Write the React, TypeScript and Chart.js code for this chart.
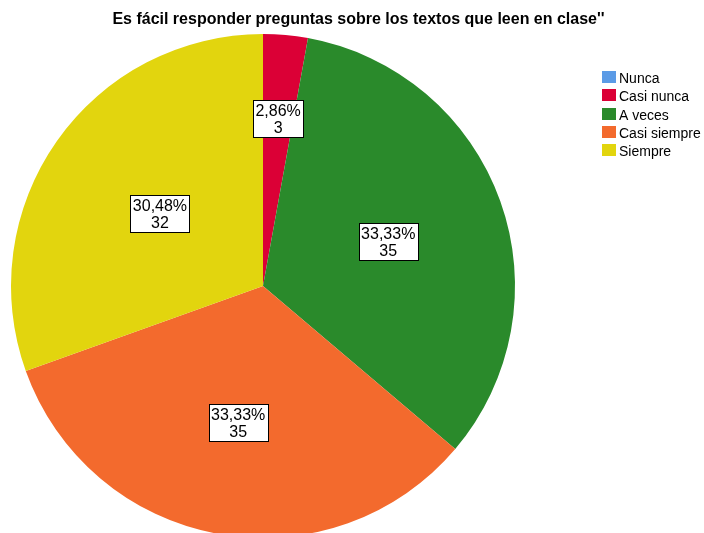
import React, { useEffect, useRef } from "react";
import { Chart, registerables } from "chart.js";

Chart.register(...registerables);

const titleText = "Es fácil responder preguntas sobre los textos que leen en clase''";
const categories = ["Nunca", "Casi nunca", "A veces", "Casi siempre", "Siempre"];
const counts = [0, 3, 35, 35, 32];
const colors = ["#5B9BE6", "#DB0036", "#2A8A2B", "#F36A2D", "#E2D50E"];
const labelDistance = [0.6, 0.669, 0.528, 0.552, 0.5];

const FONT = "'Liberation Sans', Arial, sans-serif";

const overlayPlugin = {
  id: "overlay",
  afterDraw(chart: any) {
    const ctx = chart.ctx as CanvasRenderingContext2D;
    const total = counts.reduce((a, b) => a + b, 0);
    ctx.save();
    // title
    ctx.fillStyle = "#000";
    ctx.font = `bold 16px ${FONT}`;
    ctx.textAlign = "center";
    ctx.textBaseline = "alphabetic";
    ctx.fillText(titleText, 358.5, 24);

    // legend
    ctx.font = `14px ${FONT}`;
    ctx.textAlign = "left";
    categories.forEach((c, i) => {
      const top = 71 + i * 18.33;
      ctx.fillStyle = colors[i];
      ctx.fillRect(602, Math.round(top), 14, 12);
      ctx.fillStyle = "#000";
      ctx.fillText(c, 619, Math.round(top) + 12);
    });

    // slice labels
    const meta = chart.getDatasetMeta(0);
    ctx.font = `16px ${FONT}`;
    meta.data.forEach((arc: any, i: number) => {
      if (!counts[i]) return;
      const p = arc.getProps(["x", "y", "startAngle", "endAngle", "outerRadius"], true);
      const mid = (p.startAngle + p.endAngle) / 2;
      const d = p.outerRadius * labelDistance[i];
      const cx = p.x + Math.cos(mid) * d;
      const cy = p.y + Math.sin(mid) * d;
      const l1 = ((counts[i] / total) * 100).toFixed(2).replace(".", ",") + "%";
      const l2 = String(counts[i]);
      const w = Math.max(ctx.measureText(l1).width, ctx.measureText(l2).width) + 5;
      const h = 37;
      const left = Math.round(cx - w / 2) + 0.5;
      const top = Math.round(cy - h / 2) + 0.5;
      ctx.fillStyle = "#fff";
      ctx.fillRect(left, top, Math.round(w), h);
      ctx.strokeStyle = "#000";
      ctx.lineWidth = 1;
      ctx.strokeRect(left, top, Math.round(w), h);
      ctx.fillStyle = "#000";
      ctx.textAlign = "center";
      ctx.fillText(l1, cx, top + 15);
      ctx.fillText(l2, cx, top + 32);
    });
    ctx.restore();
  },
};

export default function App() {
  const ref = useRef<HTMLCanvasElement>(null);
  useEffect(() => {
    if (!ref.current) return;
    const chart = new Chart(ref.current, {
      type: "pie",
      data: {
        labels: categories,
        datasets: [
          {
            data: counts,
            backgroundColor: colors,
            borderWidth: 0,
          },
        ],
      },
      options: {
        responsive: false,
        animation: false,
        devicePixelRatio: 1,
        layout: { padding: { top: 34, left: 0, right: 178, bottom: 2 } },
        plugins: {
          legend: { display: false },
          title: { display: false },
          tooltip: { enabled: false },
        },
      },
      plugins: [overlayPlugin],
    });
    return () => chart.destroy();
  }, []);
  return (
    <div
      style={{
        position: "fixed",
        left: 0,
        top: 0,
        width: 704,
        height: 533,
        overflow: "hidden",
        background: "#fff",
      }}
    >
      <canvas ref={ref} width={704} height={540} style={{ width: 704, height: 540, display: "block" }} />
    </div>
  );
}
